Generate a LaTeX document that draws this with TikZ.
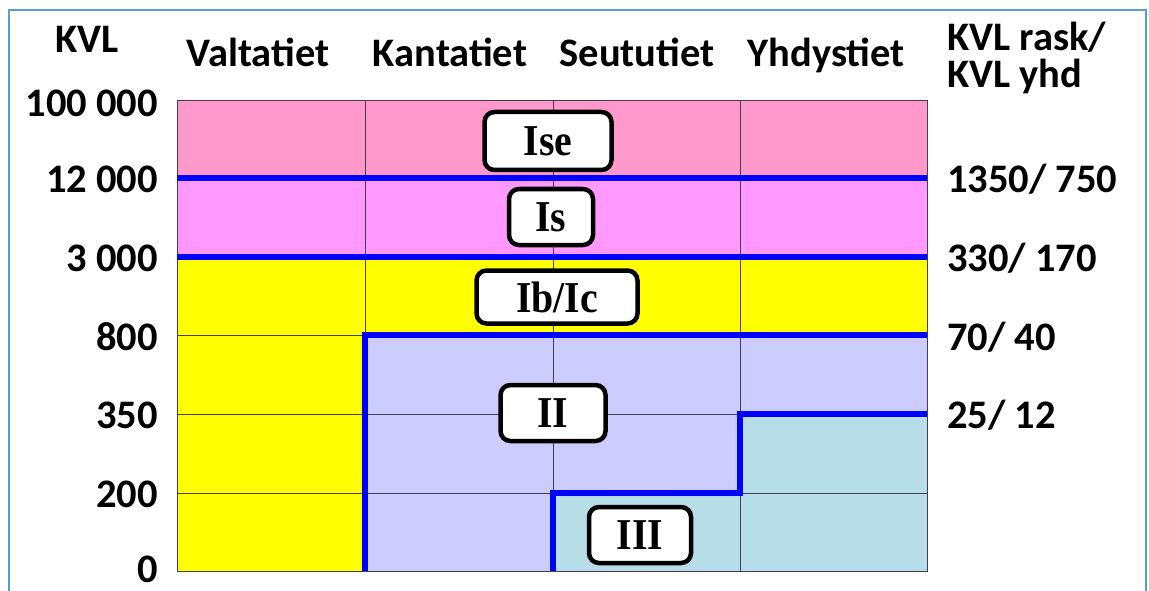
\documentclass[tikz,border=0pt]{standalone}
\usepackage{fontspec}
\setmainfont{Carlito}
\newfontfamily\romanfont{Liberation Serif}
\definecolor{framecol}{RGB}{91,155,213}
\definecolor{pinkA}{RGB}{255,153,204}
\definecolor{pinkB}{RGB}{255,153,255}
\definecolor{yell}{RGB}{255,255,0}
\definecolor{lav}{RGB}{204,204,255}
\definecolor{lblue}{RGB}{183,221,232}
\definecolor{gridcol}{RGB}{70,60,80}
\definecolor{bline}{RGB}{0,0,255}
\newcommand{\tallr}[1]{\scalebox{1.02}[1.13]{#1}}
\tikzset{
  lbl/.style={font=\bfseries\fontsize{40.5}{45}\selectfont, inner sep=0pt},
  lefttick/.style={lbl, anchor=base east},
  righttick/.style={lbl, anchor=base west},
  header/.style={lbl, anchor=base},
  classbox/.style={draw=black, line width=4.5pt, rounded corners=10pt, fill=white,
    font=\romanfont\bfseries\fontsize{39}{44}\selectfont, inner sep=0pt},
  blueline/.style={draw=bline, line width=5.8pt},
  gridline/.style={draw=gridcol, line width=0.9pt},
}
\begin{document}
\begin{tikzpicture}[x=1pt,y=-1pt]
\useasboundingbox (0,0) rectangle (1149,591);
\fill[white] (0,0) rectangle (1149,591);
% frame
\draw[framecol, line width=2pt] (9,591) -- (9,10) -- (1146,10) -- (1146,591);
% fills
\fill[pinkA] (177,100) rectangle (927,178);
\fill[pinkB] (177,178) rectangle (927,257);
\fill[yell] (177,257) rectangle (927,335);
\fill[yell] (177,335) rectangle (365,571);
\fill[lav] (365,335) -- (927,335) -- (927,414) -- (740,414) -- (740,493) -- (553,493) -- (553,571) -- (365,571) -- cycle;
\fill[lblue] (927,414) -- (927,571) -- (553,571) -- (553,493) -- (740,493) -- (740,414) -- cycle;
% grid
\foreach \x in {365,553,740} \draw[gridline] (\x,100) -- (\x,571);
\foreach \y in {178,257,335,414,493} \draw[gridline] (177,\y) -- (927,\y);
\draw[gridline] (177,100) rectangle (927,571);
% blue class borders
\draw[blueline] (177,178) -- (927,178);
\draw[blueline] (177,257) -- (927,257);
\draw[blueline] (365,571) -- (365,335) -- (927,335);
\draw[blueline] (553,571) -- (553,493) -- (740,493) -- (740,414) -- (927,414);
% headers
\node[header] (hkvl) at (87,53) {KVL};
\node[header] (hval) at (258,67) {Valtatiet};
\node[header] (hkan) at (450,67) {Kantatiet};
\node[header] (hseu) at (637,67) {Seututiet};
\node[header] (hyhd) at (826,67) {Yhdystiet};
\node[righttick] (hr1) at (947,51) {KVL rask/};
\node[righttick] (hr2) at (947,88) {KVL yhd};
% left ticks
\node[lefttick] (l1) at (158,117) {100 000};
\node[lefttick] (l2) at (158,193) {12 000};
\node[lefttick] (l3) at (158,271) {3 000};
\node[lefttick] (l4) at (158,350) {800};
\node[lefttick] (l5) at (158,428) {350};
\node[lefttick] (l6) at (158,507) {200};
\node[lefttick] (l7) at (158,582) {0};
% right ticks
\node[righttick] (r1) at (947,193) {1350/ 750};
\node[righttick] (r2) at (947,271) {330/ 170};
\node[righttick] (r3) at (947,350) {70/ 40};
\node[righttick] (r4) at (947,428) {25/ 12};
% class boxes
\node[classbox, minimum width=127pt, minimum height=58pt] (bise) at (548,141) {\tallr{Ise}};
\node[classbox, minimum width=84pt, minimum height=56pt] (bis) at (551,217) {\tallr{Is}};
\node[classbox, minimum width=161pt, minimum height=53pt] (bib) at (557,297) {\tallr{Ib/Ic}};
\node[classbox, minimum width=105pt, minimum height=56pt] (bii) at (553,413) {\tallr{II}};
\node[classbox, minimum width=102pt, minimum height=56pt] (biii) at (640,535) {\tallr{III}};
\end{tikzpicture}
\end{document}
